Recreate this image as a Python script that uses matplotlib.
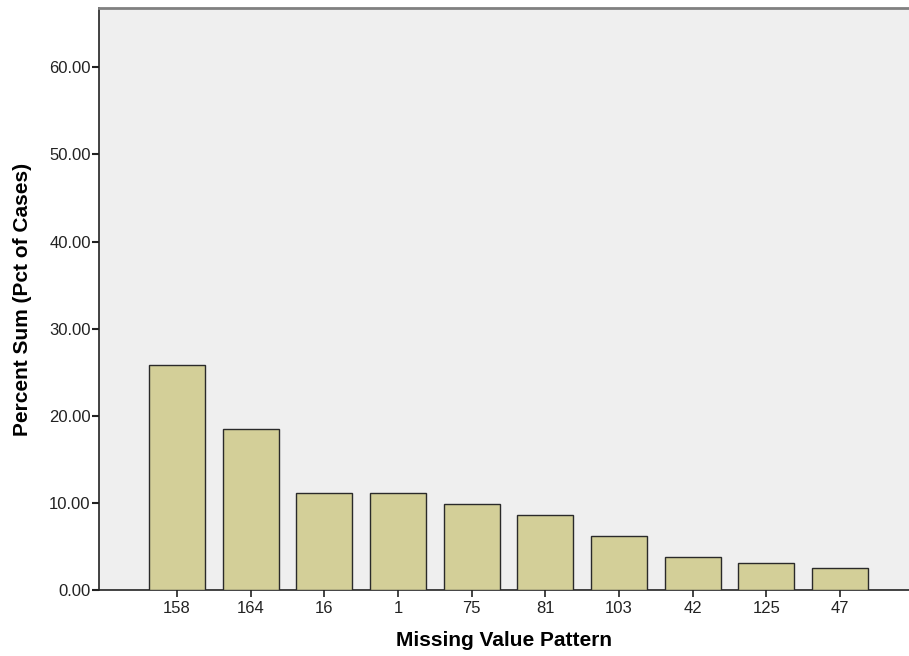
import matplotlib.pyplot as plt
import numpy as np
from matplotlib.ticker import FormatStrFormatter

plt.rcParams["font.family"] = ["Liberation Sans", "DejaVu Sans"]

# Data
patterns = ["158", "164", "16", "1", "75", "81", "103", "42", "125", "47"]
percent = [25.8, 18.47, 11.13, 11.13, 9.87, 8.6, 6.19, 3.79, 3.1, 2.52]
y_ticks = [0, 10, 20, 30, 40, 50, 60]

fig = plt.figure(figsize=(9.09, 6.56), dpi=100)
ax = fig.add_axes([0.1089, 0.1006, 0.8911, 0.8872])
ax.set_facecolor("#efefef")

x = np.arange(len(patterns))
ax.bar(x, percent, width=0.76, color="#d3cf98", edgecolor="#2a2a2a", linewidth=1.0, zorder=3)

ax.set_xlim(-1.057, 9.935)
ax.set_ylim(0, 66.8)
ax.set_xticks(x)
ax.set_xticklabels(patterns)
ax.set_yticks(y_ticks)
ax.yaxis.set_major_formatter(FormatStrFormatter("%.2f"))
ax.tick_params(axis="both", labelsize=12, colors="#222222", direction="out")
ax.tick_params(axis="x", length=5, width=1.2, pad=3)
ax.tick_params(axis="y", length=5, width=1.5, pad=1)

ax.spines["right"].set_visible(False)
ax.spines["top"].set_color("#808080")
ax.spines["top"].set_linewidth(2)
ax.spines["left"].set_color("#222222")
ax.spines["left"].set_linewidth(1.2)
ax.spines["bottom"].set_color("#222222")
ax.spines["bottom"].set_linewidth(1.2)

ax.set_xlabel("Missing Value Pattern", fontsize=15, fontweight="bold")
ax.set_ylabel("Percent Sum (Pct of Cases)", fontsize=15, fontweight="bold")
ax.xaxis.set_label_coords(0.5, -0.071)
ax.yaxis.set_label_coords(-0.083, 0.5)

plt.savefig("out.png", dpi=100)
